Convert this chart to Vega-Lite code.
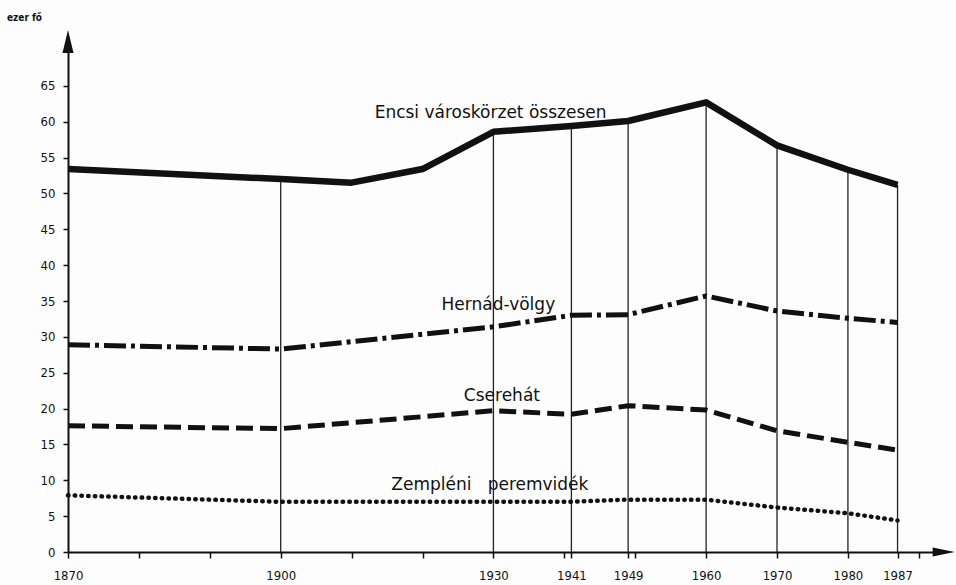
{
  "$schema": "https://vega.github.io/schema/vega-lite/v6.json",
  "width": 865,
  "height": 502,
  "autosize": {"type": "none"},
  "padding": {"left": 68, "top": 50, "right": 23, "bottom": 33},
  "background": "#fdfdfd",
  "config": {
    "view": {"stroke": null},
    "axis": {
      "grid": false,
      "domainColor": "#111",
      "domainWidth": 2,
      "tickColor": "#111",
      "tickWidth": 1.5,
      "labelColor": "#111",
      "labelFont": "Liberation Sans Narrow, DejaVu Sans Condensed, sans-serif",
      "labelFontSize": 13,
      "labelOverlap": false
    }
  },
  "datasets": {
    "pop": [
      {"series": "Encsi városkörzet összesen", "year": 1870, "value": 53.4},
      {"series": "Encsi városkörzet összesen", "year": 1900, "value": 52.0},
      {"series": "Encsi városkörzet összesen", "year": 1910, "value": 51.5},
      {"series": "Encsi városkörzet összesen", "year": 1920, "value": 53.4},
      {"series": "Encsi városkörzet összesen", "year": 1930, "value": 58.6},
      {"series": "Encsi városkörzet összesen", "year": 1941, "value": 59.4},
      {"series": "Encsi városkörzet összesen", "year": 1949, "value": 60.1},
      {"series": "Encsi városkörzet összesen", "year": 1960, "value": 62.7},
      {"series": "Encsi városkörzet összesen", "year": 1970, "value": 56.7},
      {"series": "Encsi városkörzet összesen", "year": 1980, "value": 53.3},
      {"series": "Encsi városkörzet összesen", "year": 1987, "value": 51.2},
      {"series": "Hernád-völgy", "year": 1870, "value": 28.9},
      {"series": "Hernád-völgy", "year": 1900, "value": 28.3},
      {"series": "Hernád-völgy", "year": 1930, "value": 31.4},
      {"series": "Hernád-völgy", "year": 1941, "value": 33.0},
      {"series": "Hernád-völgy", "year": 1949, "value": 33.1},
      {"series": "Hernád-völgy", "year": 1960, "value": 35.7},
      {"series": "Hernád-völgy", "year": 1970, "value": 33.6},
      {"series": "Hernád-völgy", "year": 1980, "value": 32.6},
      {"series": "Hernád-völgy", "year": 1987, "value": 32.0},
      {"series": "Cserehát", "year": 1870, "value": 17.6},
      {"series": "Cserehát", "year": 1900, "value": 17.2},
      {"series": "Cserehát", "year": 1930, "value": 19.7},
      {"series": "Cserehát", "year": 1941, "value": 19.2},
      {"series": "Cserehát", "year": 1949, "value": 20.4},
      {"series": "Cserehát", "year": 1960, "value": 19.8},
      {"series": "Cserehát", "year": 1970, "value": 16.9},
      {"series": "Cserehát", "year": 1980, "value": 15.3},
      {"series": "Cserehát", "year": 1987, "value": 14.2},
      {"series": "Zempléni peremvidék", "year": 1870, "value": 7.9},
      {"series": "Zempléni peremvidék", "year": 1900, "value": 7.0},
      {"series": "Zempléni peremvidék", "year": 1930, "value": 7.0},
      {"series": "Zempléni peremvidék", "year": 1941, "value": 7.0},
      {"series": "Zempléni peremvidék", "year": 1949, "value": 7.3},
      {"series": "Zempléni peremvidék", "year": 1960, "value": 7.3},
      {"series": "Zempléni peremvidék", "year": 1970, "value": 6.2},
      {"series": "Zempléni peremvidék", "year": 1980, "value": 5.4},
      {"series": "Zempléni peremvidék", "year": 1987, "value": 4.4}
    ],
    "labels": [
      {"text": "Encsi városkörzet összesen", "year": 1929.6, "value": 61.2},
      {"text": "Hernád-völgy", "year": 1930.7, "value": 34.4},
      {"text": "Cserehát", "year": 1931.2, "value": 21.7},
      {"text": "Zempléni\u00a0\u00a0 peremvidék", "year": 1929.5, "value": 9.3}
    ],
    "axisEnds": [
      {"axis": "x", "year": 1993.5, "value": 0},
      {"axis": "y", "year": 1870, "value": 71.2}
    ]
  },
  "encoding": {
    "x": {
      "field": "year", "type": "quantitative",
      "scale": {"domain": [1870, 1992], "nice": false, "zero": false},
      "axis": {
        "title": null,
        "values": [1870,1880,1890,1900,1910,1920,1930,1940,1941,1949,1950,1960,1970,1980,1987,1990],
        "labelExpr": "indexof([1870,1900,1930,1941,1949,1960,1970,1980,1987], datum.value) >= 0 ? '' + datum.value : ''",
        "tickSize": 6,
        "labelPadding": 11,
        "labelFlush": false,
        "labelOverlap": false
      }
    },
    "y": {
      "field": "value", "type": "quantitative",
      "scale": {"domain": [0, 70], "nice": false},
      "axis": {
        "values": [0,5,10,15,20,25,30,35,40,45,50,55,60,65],
        "labelOverlap": false,
        "title": "ezer fő",
        "titleAngle": 0,
        "titleX": -44,
        "titleY": -33,
        "titleAlign": "center",
        "titleBaseline": "middle",
        "titleFont": "DejaVu Sans Condensed, sans-serif",
        "titleFontSize": 10,
        "titleFontWeight": "bold",
        "titleColor": "#111",
        "tickSize": 5,
        "labelPadding": 8
      }
    }
  },
  "layer": [
    {
      "data": {"name": "pop"},
      "transform": [
        {"filter": "datum.series === 'Encsi városkörzet összesen' && indexof([1900,1930,1941,1949,1960,1970,1980,1987], datum.year) >= 0"}
      ],
      "mark": {"type": "rule", "color": "#222", "strokeWidth": 1.3},
      "encoding": {
        "y2": {"datum": 0}
      }
    },
    {
      "data": {"name": "pop"},
      "transform": [{"filter": "datum.series === 'Encsi városkörzet összesen'"}],
      "mark": {"type": "line", "color": "#111", "strokeWidth": 6.5, "strokeJoin": "round"},
      "encoding": {}
    },
    {
      "data": {"name": "pop"},
      "transform": [{"filter": "datum.series === 'Hernád-völgy'"}],
      "mark": {"type": "line", "color": "#111", "strokeWidth": 5, "strokeDash": [22, 5, 4, 5]},
      "encoding": {}
    },
    {
      "data": {"name": "pop"},
      "transform": [{"filter": "datum.series === 'Cserehát'"}],
      "mark": {"type": "line", "color": "#111", "strokeWidth": 5, "strokeDash": [17, 7]},
      "encoding": {}
    },
    {
      "data": {"name": "pop"},
      "transform": [{"filter": "datum.series === 'Zempléni peremvidék'"}],
      "mark": {"type": "line", "color": "#111", "strokeWidth": 4.5, "strokeDash": [0.5, 6.2], "strokeCap": "round"},
      "encoding": {}
    },
    {
      "data": {"name": "labels"},
      "mark": {"type": "text", "font": "DejaVu Sans, sans-serif", "fontSize": 17, "color": "#111", "align": "center", "baseline": "middle"},
      "encoding": {
        "text": {"field": "text"}
      }
    },
    {
      "data": {"name": "axisEnds"},
      "transform": [{"filter": "datum.axis === 'x'"}],
      "mark": {"type": "point", "shape": "M-1,-0.4L1,0L-1,0.4Z", "filled": true, "color": "#111", "size": 484, "opacity": 1},
      "encoding": {}
    },
    {
      "data": {"name": "axisEnds"},
      "transform": [{"filter": "datum.axis === 'y'"}],
      "mark": {"type": "point", "shape": "M-0.48,1L0,-1L0.48,1Z", "filled": true, "color": "#111", "size": 529, "opacity": 1},
      "encoding": {}
    }
  ]
}
